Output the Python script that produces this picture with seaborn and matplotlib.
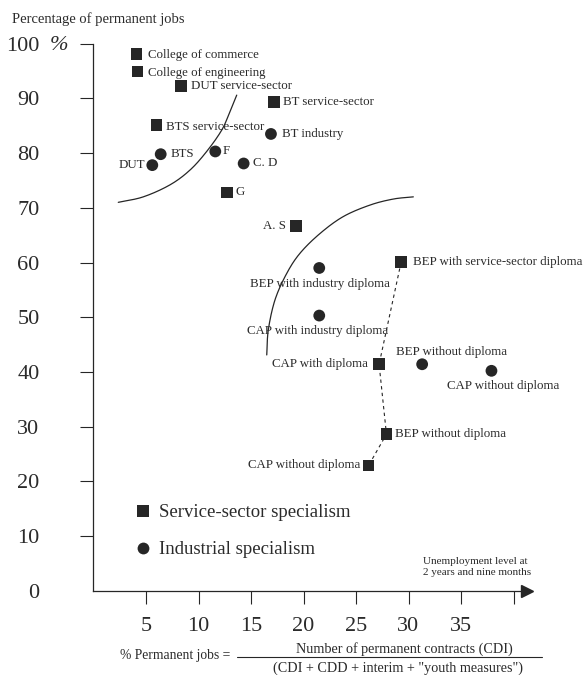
import numpy as np
import pandas as pd
import matplotlib
matplotlib.use("Agg")
import matplotlib.pyplot as plt
from matplotlib.lines import Line2D
import seaborn as sns

# ---------------- data ----------------
service_labels = ["College of commerce", "College of engineering", "DUT service-sector",
                  "BT service-sector", "BTS service-sector", "G", "A. S",
                  "BEP with service-sector diploma", "CAP with diploma",
                  "BEP without diploma", "CAP without diploma"]
service_x = [4.1, 4.2, 8.3, 17.2, 6.0, 12.7, 19.3, 29.3, 27.2, 27.9, 26.2]
service_y = [98.1, 94.9, 92.3, 89.4, 85.1, 72.8, 66.7, 60.1, 41.4, 28.6, 22.9]

industrial_labels = ["BT industry", "F", "C. D", "BTS", "DUT",
                     "BEP with industry diploma", "CAP with industry diploma",
                     "BEP without diploma", "CAP without diploma"]
industrial_x = [16.9, 11.6, 14.3, 6.4, 5.6, 21.5, 21.5, 31.3, 37.9]
industrial_y = [83.5, 80.3, 78.1, 79.8, 77.8, 59.0, 50.3, 41.4, 40.2]

# dashed trajectory through the service-sector BEP/CAP groups
path_labels = ["BEP with service-sector diploma", "CAP with diploma",
               "BEP without diploma", "CAP without diploma"]

# hand-drawn guide curves (data coordinates)
upper_curve_x = [2.36, 4.74, 7.29, 9.19, 10.78, 12.21, 13.0, 13.64]
upper_curve_y = [71.0, 72.0, 74.2, 76.9, 80.3, 84.2, 87.6, 90.6]
lower_curve_x = [16.5, 16.65, 17.29, 18.4, 19.67, 21.57, 23.79, 26.33, 28.55, 30.46]
lower_curve_y = [43.1, 47.7, 53.2, 58.0, 61.7, 65.3, 68.4, 70.5, 71.6, 72.0]

x_ticks = [5, 10, 15, 20, 25, 30, 35, 40]
x_ticklabels = ["5", "10", "15", "20", "25", "30", "35", ""]
y_ticks = [0, 10, 20, 30, 40, 50, 60, 70, 80, 90, 100]
y_ticklabels = ["0", "10", "20", "30", "40", "50", "60", "70", "80", "90", "100"]

# label placement: (ha, dx px, dy px downwards)
service_offsets = [("left", 11, 1), ("left", 10.5, 1), ("left", 10.5, 0),
                   ("left", 9.3, 0), ("left", 10, 1.5), ("left", 8.5, 0),
                   ("right", -10.7, 0), ("left", 11.6, 0), ("right", -11.5, 0),
                   ("left", 8.3, 0), ("right", -8.3, 0)]
industrial_offsets = [("left", 10.7, 0), ("left", 7, 0), ("left", 9, 0),
                      ("left", 10, 0), ("right", -7, 0), ("center", 1, 15.7),
                      ("center", -1.5, 15), ("center", 29.7, -12), ("center", 11.3, 15)]

# ---------------- style ----------------
sns.set_theme(style="white")
plt.rcParams["font.family"] = ["Liberation Serif", "DejaVu Serif"]
INK = "#262626"
TXT = "#2b2b2b"

W, H = 586, 675
fig = plt.figure(figsize=(W / 100, H / 100), dpi=100)
fig.patch.set_facecolor("white")

x0_px, y0_px = 93.5, 590.7
sx, sy = 10.5, 5.47
top_px = 30
ax = fig.add_axes([x0_px / W, (H - y0_px) / H, (W - x0_px) / W, (y0_px - top_px) / H])
ax.set_xlim(0, (W - x0_px) / sx)
ax.set_ylim(0, (y0_px - top_px) / sy)
ax.set_facecolor("white")

def fpx(x, y):
    return x / W, 1 - y / H

df = pd.DataFrame({
    "x": service_x + industrial_x,
    "y": service_y + industrial_y,
    "kind": ["Service"] * len(service_x) + ["Industrial"] * len(industrial_x),
    "label": service_labels + industrial_labels,
})

# guide curves (Catmull-Rom smoothing through guide points)
def smooth(xs, ys, n=20):
    P = np.column_stack([xs, ys])
    P = np.vstack([2 * P[0] - P[1], P, 2 * P[-1] - P[-2]])
    out = []
    for i in range(1, len(P) - 2):
        p0, p1, p2, p3 = P[i - 1], P[i], P[i + 1], P[i + 2]
        t = np.linspace(0, 1, n, endpoint=False)[:, None]
        pts = 0.5 * ((2 * p1) + (-p0 + p2) * t + (2 * p0 - 5 * p1 + 4 * p2 - p3) * t ** 2
                     + (-p0 + 3 * p1 - 3 * p2 + p3) * t ** 3)
        out.append(pts)
    out.append(P[-2][None, :])
    out = np.vstack(out)
    return out[:, 0], out[:, 1]

for cx, cy in [(upper_curve_x, upper_curve_y), (lower_curve_x, lower_curve_y)]:
    sxv, syv = smooth(cx, cy)
    ax.plot(sxv, syv, color=INK, lw=0.9, zorder=2)

# dashed trajectory
svc = df[df.kind == "Service"].set_index("label")
path_df = pd.DataFrame({"x": [svc.loc[l, "x"] for l in path_labels],
                        "y": [svc.loc[l, "y"] for l in path_labels],
                        "order": range(len(path_labels))})
sns.lineplot(data=path_df, x="x", y="y", sort=False, estimator=None, ax=ax,
             color=INK, lw=0.8, dashes=False, zorder=2)
ax.lines[-1].set_dashes([3, 3])

# points
sns.scatterplot(data=df, x="x", y="y", style="kind",
                markers={"Service": "s", "Industrial": "o"},
                color=INK, s=72, linewidth=0, legend=False, ax=ax, zorder=3)

# labels
LFS = 9.3
for (lab, xx, yy), (ha, dx, dy) in zip(zip(service_labels, service_x, service_y), service_offsets):
    ax.annotate(lab, (xx, yy), xytext=(dx * 0.72, -dy * 0.72), textcoords="offset points",
                ha=ha, va="center", fontsize=LFS, color=TXT)
for (lab, xx, yy), (ha, dx, dy) in zip(zip(industrial_labels, industrial_x, industrial_y), industrial_offsets):
    ax.annotate(lab, (xx, yy), xytext=(dx * 0.72, -dy * 0.72), textcoords="offset points",
                ha=ha, va="center", fontsize=LFS, color=TXT)

# axes
for s in ["top", "right"]:
    ax.spines[s].set_visible(False)
ax.spines["left"].set_bounds(0, 100)
ax.spines["bottom"].set_bounds(0, 41.0)
for s in ["left", "bottom"]:
    ax.spines[s].set_color(INK)
    ax.spines[s].set_linewidth(0.9)
ax.plot([41.33], [0], marker=">", markersize=8.5, color=INK, clip_on=False, zorder=4)

ax.set_xticks(x_ticks)
ax.set_xticklabels(x_ticklabels)
ax.set_yticks(y_ticks)
ax.set_yticklabels(y_ticklabels)
ax.tick_params(axis="x", direction="out", length=9.1, width=0.8, color=INK,
               pad=10, labelsize=16, labelcolor=TXT, bottom=True)
ax.tick_params(axis="y", direction="out", length=9.4, width=0.8, color=INK,
               pad=29.5, labelsize=16, labelcolor=TXT, left=True)
ax.yaxis.get_major_ticks()[0].tick1line.set_visible(False)
ax.set_xlabel("")
ax.set_ylabel("")
ax.grid(False)

# % sign next to 100
fig.text(*fpx(50, 46), "%", fontsize=16, style="italic", color=TXT, va="center", ha="left")

# y-axis title
fig.text(*fpx(11.7, 19), "Percentage of permanent jobs", fontsize=10.5, color=TXT,
         ha="left", va="center")

# x-axis note
fig.text(*fpx(422.7, 561.2), "Unemployment level at", fontsize=8.0, color=TXT, ha="left", va="center")
fig.text(*fpx(422.7, 572.6), "2 years and nine months", fontsize=8.0, color=TXT, ha="left", va="center")

# legend
handles = [Line2D([], [], marker="s", ls="", color=INK, markersize=8.5, markeredgewidth=0),
           Line2D([], [], marker="o", ls="", color=INK, markersize=8.5, markeredgewidth=0)]
leg = ax.legend(handles, ["Service-sector specialism", "Industrial specialism"],
                loc="center left", bbox_to_anchor=fpx(135, 531.2),
                bbox_transform=fig.transFigure, frameon=False, fontsize=13.5,
                handlelength=0.8, handletextpad=0.5, labelspacing=1.05,
                borderpad=0, borderaxespad=0)
for t in leg.get_texts():
    t.set_color(TXT)

# formula at the bottom
FFS = 10.2
fig.text(*fpx(120, 655.7), "% Permanent jobs =", fontsize=9.8, color=TXT, ha="left", va="center")
fig.add_artist(Line2D([236.7 / W, 541.7 / W], [1 - 656.7 / H, 1 - 656.7 / H], color=INK, lw=0.8))
fig.text(*fpx(404, 648.8), "Number of permanent contracts (CDI)", fontsize=FFS, color=TXT,
         ha="center", va="center")
fig.text(*fpx(397.8, 668.3), '(CDI + CDD + interim + "youth measures")', fontsize=FFS, color=TXT,
         ha="center", va="center")

fig.savefig("out.png", dpi=100, facecolor="white")
